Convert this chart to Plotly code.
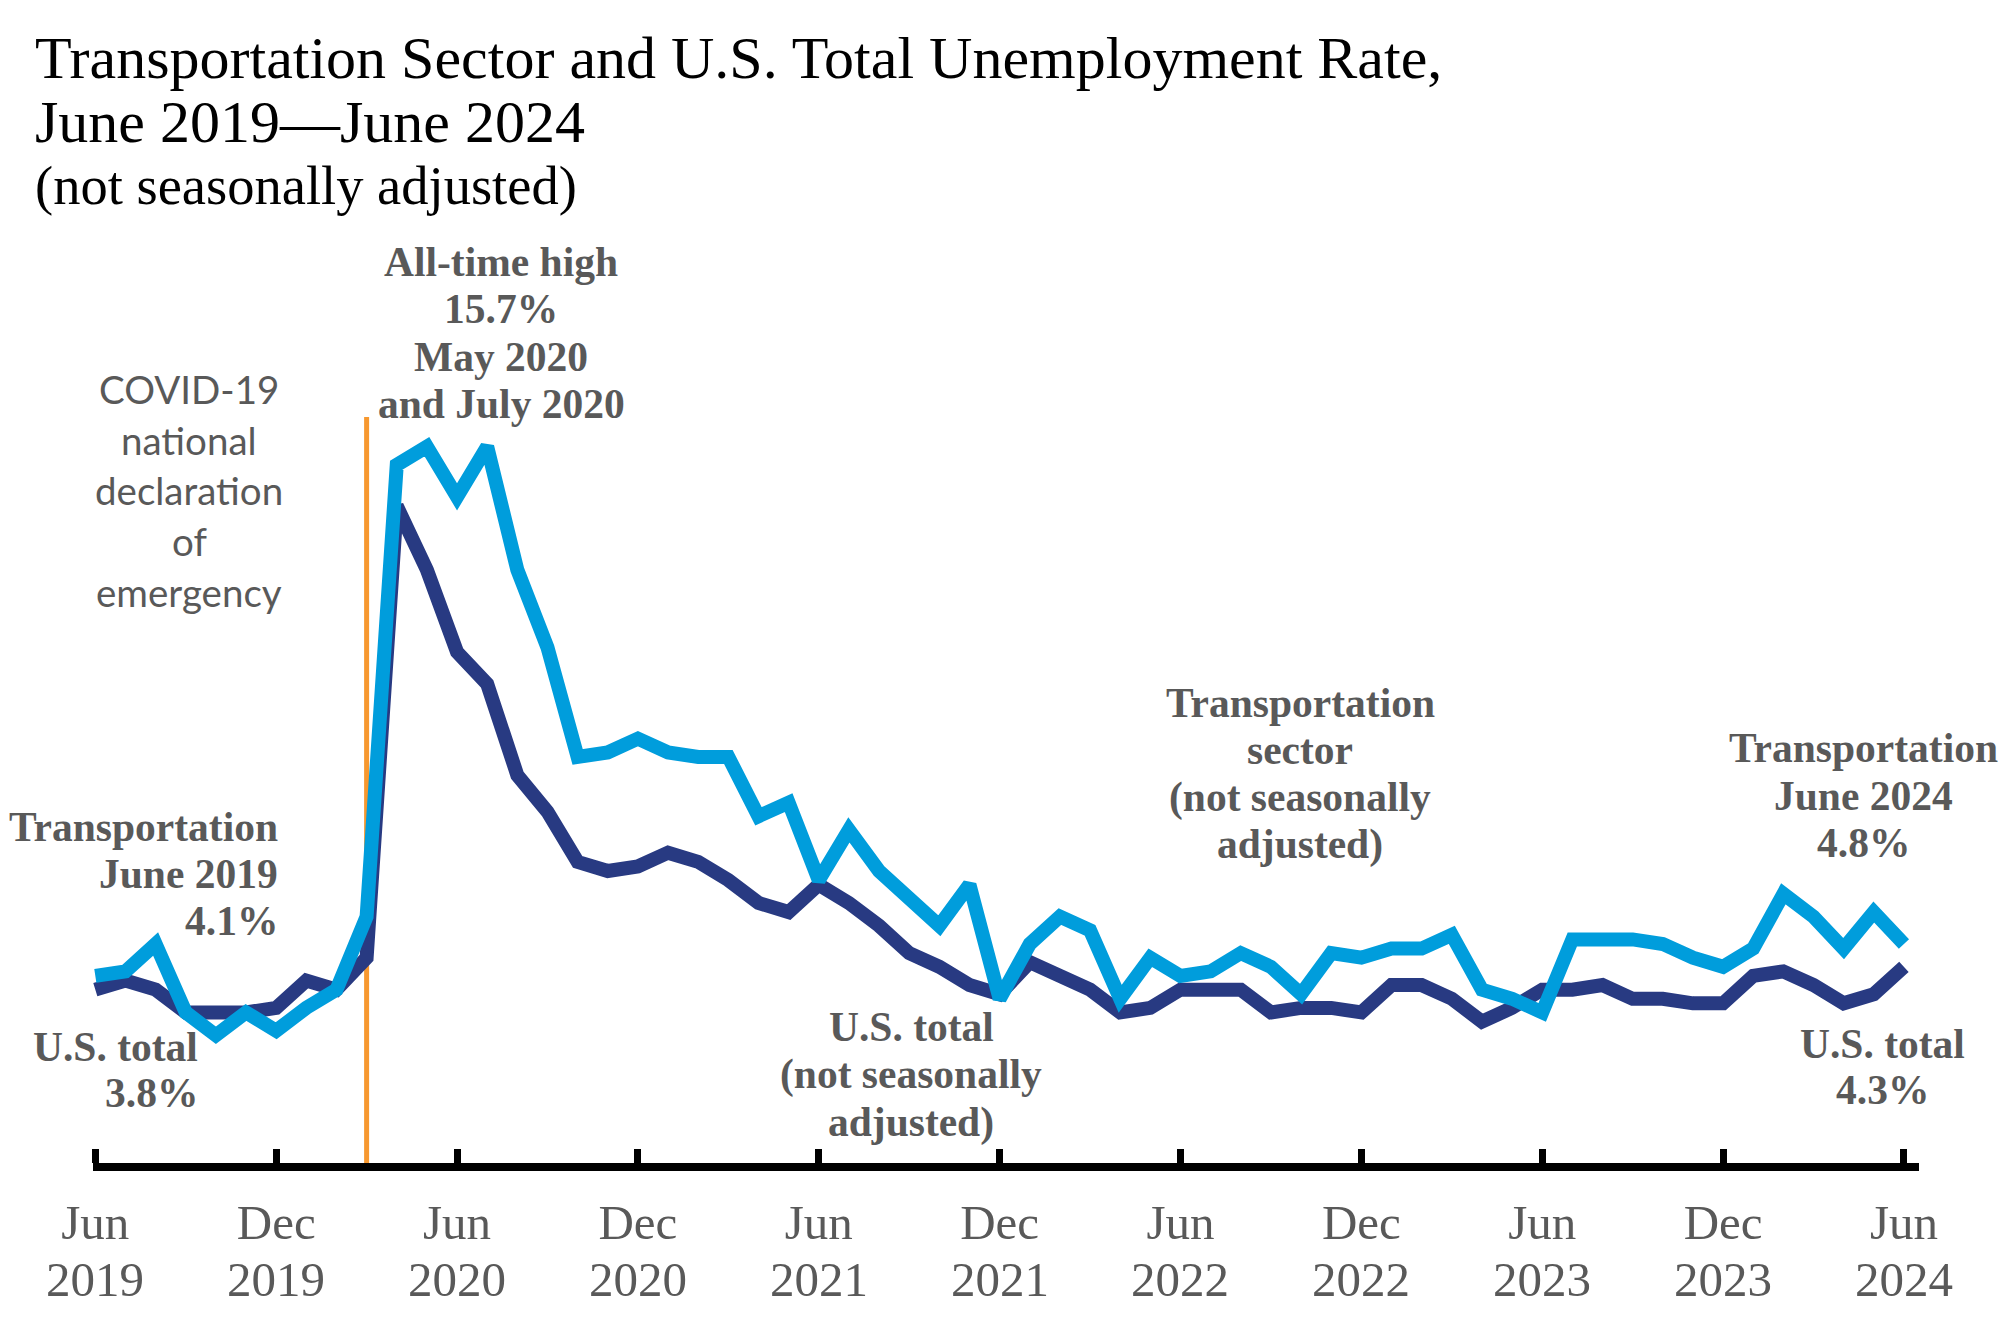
import plotly.graph_objects as go

# ---------------- data ----------------
months = [f"{2019 + (5 + i) // 12}-{(5 + i) % 12 + 1:02d}" for i in range(61)]  # Jun 2019 .. Jun 2024

transportation = [
    4.1, 4.2, 4.8, 3.3, 2.8, 3.3, 2.9,
    3.4, 3.8, 5.4, 15.3, 15.7, 14.6, 15.7, 13.0, 11.3, 8.9, 9.0, 9.3,
    9.0, 8.9, 8.9, 7.6, 7.9, 6.2, 7.3, 6.4, 5.8, 5.2, 6.1, 3.6,
    4.8, 5.4, 5.1, 3.6, 4.5, 4.1, 4.2, 4.6, 4.3, 3.7, 4.6, 4.5,
    4.7, 4.7, 5.0, 3.8, 3.6, 3.3, 4.9, 4.9, 4.9, 4.8, 4.5, 4.3,
    4.7, 5.9, 5.4, 4.7, 5.5, 4.8,
]

us_total = [
    3.8, 4.0, 3.8, 3.3, 3.3, 3.3, 3.4,
    4.0, 3.8, 4.5, 14.4, 13.0, 11.2, 10.5, 8.5, 7.7, 6.6, 6.4, 6.5,
    6.8, 6.6, 6.2, 5.7, 5.5, 6.1, 5.7, 5.2, 4.6, 4.3, 3.9, 3.7,
    4.4, 4.1, 3.8, 3.3, 3.4, 3.8, 3.8, 3.8, 3.3, 3.4, 3.4, 3.3,
    3.9, 3.9, 3.6, 3.1, 3.4, 3.8, 3.8, 3.9, 3.6, 3.6, 3.5, 3.5,
    4.1, 4.2, 3.9, 3.5, 3.7, 4.3,
]

tick_months = ["2019-06", "2019-12", "2020-06", "2020-12", "2021-06", "2021-12",
               "2022-06", "2022-12", "2023-06", "2023-12", "2024-06"]
tick_month_labels = ["Jun", "Dec", "Jun", "Dec", "Jun", "Dec", "Jun", "Dec", "Jun", "Dec", "Jun"]
tick_year_labels = ["2019", "2019", "2020", "2020", "2021", "2021",
                    "2022", "2022", "2023", "2023", "2024"]

covid_month = "2020-03"

# ---------------- layout geometry (pixels, page coordinates) ----------------
OFF = 8                      # page body margin
WIDTH, HEIGHT = 2013 - 2 * OFF, 1320 - 2 * OFF
L, R, T, B = 93, 1919, 433, 1163
W, H = R - L, B - T

SERIF = "Liberation Serif, Times New Roman, serif"
GRAY = "#595959"
NAVY = "#283A82"
BLUE = "#009DDC"
ORANGE = "#F7982F"

fig = go.Figure()

fig.add_trace(go.Scatter(
    x=months, y=us_total, mode="lines", name="U.S. total",
    line=dict(color=NAVY, width=14), hoverinfo="x+y", showlegend=False,
))
fig.add_trace(go.Scatter(
    x=months, y=transportation, mode="lines", name="Transportation",
    line=dict(color=BLUE, width=14), hoverinfo="x+y", showlegend=False,
))

# COVID declaration line
fig.add_shape(type="line", xref="x", yref="paper",
              x0=covid_month, x1=covid_month, y0=0, y1=(B - 417) / H,
              line=dict(color=ORANGE, width=5), layer="below")


def px_x(X):
    return (X - L) / W


def px_y(Y):
    return (B - Y) / H


def add_lines(lines, X, Y0, dy, xanchor, font, sizes=None):
    for i, t in enumerate(lines):
        f = dict(font)
        if sizes:
            f["size"] = sizes[i]
        fig.add_annotation(
            x=px_x(X), y=px_y(Y0 + i * dy), xref="paper", yref="paper",
            text=t, showarrow=False, xanchor=xanchor, yanchor="middle",
            font=f, borderpad=0,
        )


bold = dict(family=SERIF, size=41.5, color=GRAY, weight="bold")
title_font = dict(family=SERIF, size=60, color="#000000")
sans = dict(family="Lato, Open Sans, sans-serif", size=38.5, color=GRAY)

add_lines(["Transportation Sector and U.S. Total Unemployment Rate,",
           "June 2019\u2014June 2024",
           "(not seasonally adjusted)"], 34, 58, 64, "left", title_font, sizes=[60, 60, 54.5])

add_lines(["All-time high", "15.7%", "May 2020", "and July 2020"], 501, 262, 47.3, "center", bold)
add_lines(["COVID-19", "national", "declaration", "of", "emergency"], 189, 389, 50.7, "center", sans)
add_lines(["Transportation", "June 2019", "4.1%"], 279, 827, 47, "right", bold)
add_lines(["U.S. total", "3.8%"], 199, 1047, 46, "right", bold)
add_lines(["U.S. total", "(not seasonally", "adjusted)"], 911, 1027, 47.5, "center", bold)
add_lines(["Transportation", "sector", "(not seasonally", "adjusted)"], 1300, 703, 47.3, "center", bold)
add_lines(["Transportation", "June 2024", "4.8%"], 1863, 748, 47.5, "center", bold)
add_lines(["U.S. total", "4.3%"], 1882, 1044, 46, "center", bold)

# year line of the category tick labels (second line under Jun / Dec)
for m, yr in zip(tick_months, tick_year_labels):
    fig.add_annotation(
        x=m, xref="x", y=px_y(1279), yref="paper", text=yr, showarrow=False,
        xanchor="center", yanchor="middle", borderpad=0,
        font=dict(family=SERIF, size=49, color=GRAY),
    )

fig.update_layout(
    width=WIDTH, height=HEIGHT,
    margin=dict(l=L - OFF, r=WIDTH - (R - OFF), t=T - OFF, b=HEIGHT - (B - OFF), pad=0,
                autoexpand=False),
    paper_bgcolor="white", plot_bgcolor="white",
    showlegend=False,
    xaxis=dict(
        type="category", categoryorder="array", categoryarray=months,
        range=[-0.077, 60.5], automargin=False,
        tickvals=tick_months, ticktext=tick_month_labels,
        ticks="inside", ticklen=14, tickwidth=7, tickcolor="black",
        showline=True, linewidth=8, linecolor="black",
        showgrid=False, zeroline=False,
        tickfont=dict(family=SERIF, size=49, color=GRAY),
        ticklabelstandoff=9,
    ),
    yaxis=dict(range=[0, 16], visible=False, showgrid=False, zeroline=False,
               automargin=False),
)

fig.write_html("out.html")
